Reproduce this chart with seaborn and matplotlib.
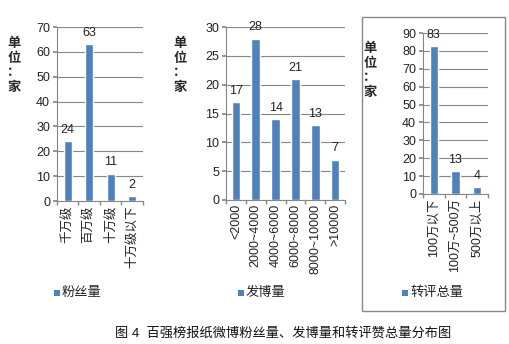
import matplotlib
matplotlib.use("Agg")
import matplotlib.pyplot as plt
import seaborn as sns
import pandas as pd
from matplotlib.patches import Rectangle

fans_cats = ["千万级", "百万级", "十万级", "十万级以下"]
fans_vals = [24, 63, 11, 2]
posts_cats = ["<2000", "2000~4000", "4000~6000", "6000~8000", "8000~10000", ">10000"]
posts_vals = [17, 28, 14, 21, 13, 7]
rep_cats = ["100万以下", "100万~500万", "500万以上"]
rep_vals = [83, 13, 4]
legend_names = ["粉丝量", "发博量", "转评总量"]
ylims = [(70, 10), (30, 5), (90, 10)]
caption = "图 4  百强榜报纸微博粉丝量、发博量和转评赞总量分布图"

sns.set_theme(style="white")
plt.rcParams['font.family'] = ['Liberation Sans', 'Noto Sans CJK SC', 'DejaVu Sans']

W, H = 510, 344
fig = plt.figure(figsize=(W / 100, H / 100), dpi=100)
BLUE = "#4F81BD"
GRAY = "#868686"

def px_axes(l, r, t, b):
    return fig.add_axes([l / W, (H - b) / H, (r - l) / W, (b - t) / H])

specs = [
    (fans_cats, fans_vals, (57, 143, 27, 201), 0.39, (14, 65), (57, 293)),
    (posts_cats, posts_vals, (226, 345, 27, 200), 0.43, (180, 65), (241, 293)),
    (rep_cats, rep_vals, (423, 488, 33, 194), 0.38, (370, 70), (405, 293)),
]

for i, (cats, vals, box, bw, ylab_pos, leg_pos) in enumerate(specs):
    ax = px_axes(*box)
    df = pd.DataFrame({"cat": cats, "val": vals})
    sns.barplot(data=df, x="cat", y="val", ax=ax, color=BLUE, width=bw,
                saturation=1, zorder=3)
    ymax, step = ylims[i]
    ax.set_ylim(0, ymax)
    ax.set_yticks(range(0, ymax + 1, step))
    ax.set_xlim(-0.5, len(cats) - 0.5)
    ax.yaxis.grid(True, color=GRAY, linewidth=0.8, zorder=0)
    ax.set_axisbelow(True)
    for s in ["top", "right"]:
        ax.spines[s].set_visible(False)
    for s in ["left", "bottom"]:
        ax.spines[s].set_color(GRAY)
        ax.spines[s].set_linewidth(0.8)
    ax.set_xlabel("")
    ax.set_ylabel("")
    ax.tick_params(axis="y", labelsize=9, length=3, color=GRAY, direction="out",
                   left=True, pad=2, labelcolor="#222222")
    ax.tick_params(axis="x", labelsize=9, length=0, pad=3, labelcolor="#222222")
    ax.set_xticks(range(len(cats)))
    ax.set_xticklabels(cats, rotation=90, va="top", ha="center")
    ax.set_xticks([k - 0.5 for k in range(len(cats) + 1)], minor=True)
    ax.tick_params(axis="x", which="minor", length=3, color=GRAY, direction="out",
                   bottom=True)
    for p, v in zip(ax.patches, vals):
        ax.text(p.get_x() + p.get_width() / 2, v + ymax * 0.03, str(v),
                ha="center", va="bottom", fontsize=9, color="#222222")
    fig.text(ylab_pos[0] / W, 1 - ylab_pos[1] / H, "单\n位\n：\n家", ha="center",
             va="center", fontsize=9.5, fontweight="bold", linespacing=1.05,
             family=['Noto Sans CJK SC'])
    lx, ly = leg_pos
    fig.patches.append(Rectangle(((lx - 3) / W, 1 - (ly + 3) / H), 6 / W, 6 / H,
                                 transform=fig.transFigure, facecolor=BLUE,
                                 edgecolor="none"))
    fig.text((lx + 5) / W, 1 - ly / H, legend_names[i], ha="left", va="center",
             fontsize=9.5, color="#222222")

fig.patches.append(Rectangle((362 / W, 1 - 311 / H), (505 - 362) / W, (311 - 17) / H,
                             transform=fig.transFigure, facecolor="none",
                             edgecolor="#898989", linewidth=1))

fig.text(283 / W, 1 - 333 / H, caption, ha="center", va="center", fontsize=9.5,
         color="#111111")

fig.savefig("out.png", dpi=100)
